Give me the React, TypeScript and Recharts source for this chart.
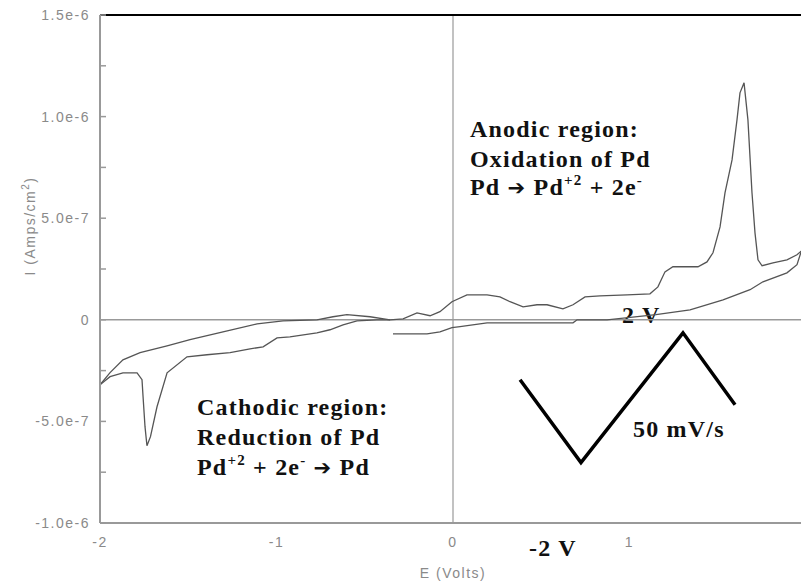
import React from 'react';
import { LineChart, Line, XAxis, YAxis, ReferenceLine } from 'recharts';

// Cathodic sweep: start near -0.36 V, going to -2 V
const cathodicE = [-0.357, -0.431, -0.544, -0.623, -0.697, -0.771, -0.924, -0.997, -1.076, -1.15, -1.263, -1.394, -1.507, -1.62, -1.677, -1.714, -1.734, -1.745, -1.756, -1.762, -1.79, -1.87, -1.943, -2.0];
const cathodicI = [0, 0, -0.05e-7, -0.25e-7, -0.49e-7, -0.64e-7, -0.84e-7, -0.89e-7, -1.33e-7, -1.43e-7, -1.62e-7, -1.72e-7, -1.82e-7, -2.61e-7, -4.28e-7, -5.75e-7, -6.2e-7, -5.26e-7, -3.79e-7, -2.95e-7, -2.61e-7, -2.61e-7, -2.8e-7, -3.2e-7];

// Anodic sweep: -2 V to +2 V
const anodicE = [-2.0, -1.943, -1.87, -1.773, -1.62, -1.49, -1.303, -1.11, -0.963, -0.771, -0.68, -0.601, -0.47, -0.357, -0.283, -0.204, -0.13, -0.074, -0.006, 0.079, 0.193, 0.266, 0.323, 0.397, 0.476, 0.533, 0.623, 0.68, 0.748, 0.833, 0.986, 1.116, 1.161, 1.201, 1.246, 1.388, 1.439, 1.473, 1.513, 1.541, 1.581, 1.609, 1.626, 1.649, 1.671, 1.694, 1.711, 1.728, 1.751, 1.813, 1.892, 1.949, 2.0];
const anodicI = [-3.2e-7, -2.6e-7, -1.97e-7, -1.62e-7, -1.28e-7, -0.98e-7, -0.59e-7, -0.2e-7, -0.05e-7, 0, 0.15e-7, 0.25e-7, 0.15e-7, 0, 0.05e-7, 0.34e-7, 0.2e-7, 0.4e-7, 0.89e-7, 1.23e-7, 1.23e-7, 1.13e-7, 0.89e-7, 0.64e-7, 0.74e-7, 0.74e-7, 0.54e-7, 0.74e-7, 1.13e-7, 1.18e-7, 1.23e-7, 1.28e-7, 1.62e-7, 2.36e-7, 2.61e-7, 2.61e-7, 2.85e-7, 3.3e-7, 4.57e-7, 6.25e-7, 7.87e-7, 9.84e-7, 1.117e-6, 1.166e-6, 9.84e-7, 6.25e-7, 4.28e-7, 2.95e-7, 2.66e-7, 2.8e-7, 2.95e-7, 3.2e-7, 3.59e-7];

// Return sweep: +2 V back to about -0.34 V
const returnE = [2.0, 1.972, 1.949, 1.892, 1.756, 1.683, 1.53, 1.343, 1.15, 0.873, 0.703, 0.68, 0.193, 0.04, -0.006, -0.074, -0.147, -0.34];
const returnI = [3.59e-7, 3.34e-7, 2.71e-7, 2.31e-7, 1.87e-7, 1.48e-7, 0.98e-7, 0.49e-7, 0.25e-7, 0, 0, -0.15e-7, -0.15e-7, -0.34e-7, -0.39e-7, -0.59e-7, -0.69e-7, -0.69e-7];

// Inset potential waveform sketch
const waveE = [0.38, 0.725, 1.303, 1.598];
const waveI = [-2.95e-7, -7.03e-7, -0.64e-7, -4.18e-7];

const xTicks = [-2, -1, 0, 1, 2];
const xTickLabels = ['-2', '-1', '0', '1', '2'];
const yTicks = [-1e-6, -7.5e-7, -5e-7, -2.5e-7, 0, 2.5e-7, 5e-7, 7.5e-7, 1e-6, 1.25e-6, 1.5e-6];
const yTickLabels = ['-1.0e-6', '', '-5.0e-7', '', '0', '', '5.0e-7', '', '1.0e-6', '', '1.5e-6'];

const zip = (es: number[], is: number[]) => es.map((E, k) => ({ E, I: is[k] }));
const cathodicData = zip(cathodicE, cathodicI);
const anodicData = zip(anodicE, anodicI);
const returnData = zip(returnE, returnI);
const waveData = zip(waveE, waveI);

const tickFont = { fontFamily: "'Liberation Sans', Arial, sans-serif", fontSize: 14, fill: '#8a8a8a', letterSpacing: 1.5 };
const noteFont = { fontFamily: "'Liberation Serif', 'Times New Roman', serif", fontSize: 24, fontWeight: 700 as const, fill: '#111', letterSpacing: 1.2 };

const YTick = (props: any) => {
  const { x, y, payload } = props;
  const idx = yTicks.findIndex((t) => Math.abs(t - payload.value) < 1e-12);
  const label = idx >= 0 ? yTickLabels[idx] : '';
  return (
    <g>
      <line x1={x + 10} x2={x + 16} y1={y} y2={y} stroke="#999" strokeWidth={1.5} />
      <text x={x} y={y} dy={5} textAnchor="end" {...tickFont}>{label}</text>
    </g>
  );
};

const XTick = (props: any) => {
  const { x, y, payload } = props;
  const idx = xTicks.findIndex((t) => Math.abs(t - payload.value) < 1e-9);
  return (
    <text x={x} y={y} dy={5} textAnchor="middle" {...tickFont}>{idx >= 0 ? xTickLabels[idx] : ''}</text>
  );
};

const Notes = () => (
  <g>
    <text {...noteFont} x={470} y={137}>Anodic region:</text>
    <text {...noteFont} x={470} y={167}>Oxidation of Pd</text>
    <text {...noteFont} x={470} y={195}>
      Pd <tspan fontFamily="'DejaVu Sans'" fontSize={21}>➔</tspan> Pd
      <tspan dy={-10} fontSize={15}>+2</tspan>
      <tspan dy={10}> + 2e</tspan>
      <tspan dy={-10} fontSize={15}>-</tspan>
    </text>
    <text {...noteFont} x={197} y={415}>Cathodic region:</text>
    <text {...noteFont} x={197} y={445}>Reduction of Pd</text>
    <text {...noteFont} x={197} y={475}>
      Pd<tspan dy={-10} fontSize={15}>+2</tspan>
      <tspan dy={10}> + 2e</tspan>
      <tspan dy={-10} fontSize={15}>-</tspan>
      <tspan dy={10}> </tspan>
      <tspan fontFamily="'DejaVu Sans'" fontSize={21}>➔</tspan> Pd
    </text>
    <text {...noteFont} x={622} y={323}>2 V</text>
    <text {...noteFont} x={529} y={556}>-2 V</text>
    <text {...noteFont} x={633} y={437}>50 mV/s</text>
    <text {...tickFont} x={453} y={578} textAnchor="middle">E (Volts)</text>
    <text {...tickFont} x={0} y={0} textAnchor="middle" transform="translate(35,226) rotate(-90)">
      I (Amps/cm<tspan dy={-6} fontSize={10}>2</tspan><tspan dy={6}>)</tspan>
    </text>
  </g>
);

export default function App() {
  return (
    <div style={{ position: 'absolute', left: 0, top: 0, width: 801, height: 584, overflow: 'hidden', background: '#fff' }}>
      <LineChart width={820} height={584} margin={{ top: 15, right: 14, bottom: 31, left: 0 }}>
        <XAxis
          dataKey="E"
          type="number"
          domain={[-2, 2]}
          ticks={xTicks}
          allowDataOverflow
          tickLine={false}
          tickSize={0}
          tickMargin={19}
          height={30}
          axisLine={{ stroke: '#999', strokeWidth: 2 }}
          tick={<XTick />}
        />
        <YAxis
          type="number"
          domain={[-1e-6, 1.5e-6]}
          ticks={yTicks}
          allowDataOverflow
          tickLine={false}
          tickSize={0}
          tickMargin={10}
          width={100}
          axisLine={{ stroke: '#999', strokeWidth: 2 }}
          tick={<YTick />}
        />
        <ReferenceLine y={0} stroke="#999" strokeWidth={1.5} />
        <ReferenceLine x={0} stroke="#999" strokeWidth={1.2} />
        <ReferenceLine y={1.5e-6} stroke="#000" strokeWidth={2} />
        <Line data={cathodicData} dataKey="I" type="linear" stroke="#555" strokeWidth={1.3} dot={false} isAnimationActive={false} />
        <Line data={anodicData} dataKey="I" type="linear" stroke="#555" strokeWidth={1.3} dot={false} isAnimationActive={false} />
        <Line data={returnData} dataKey="I" type="linear" stroke="#555" strokeWidth={1.3} dot={false} isAnimationActive={false} />
        <Line data={waveData} dataKey="I" type="linear" stroke="#000" strokeWidth={3.5} dot={false} isAnimationActive={false} />
        <Notes />
      </LineChart>
    </div>
  );
}
